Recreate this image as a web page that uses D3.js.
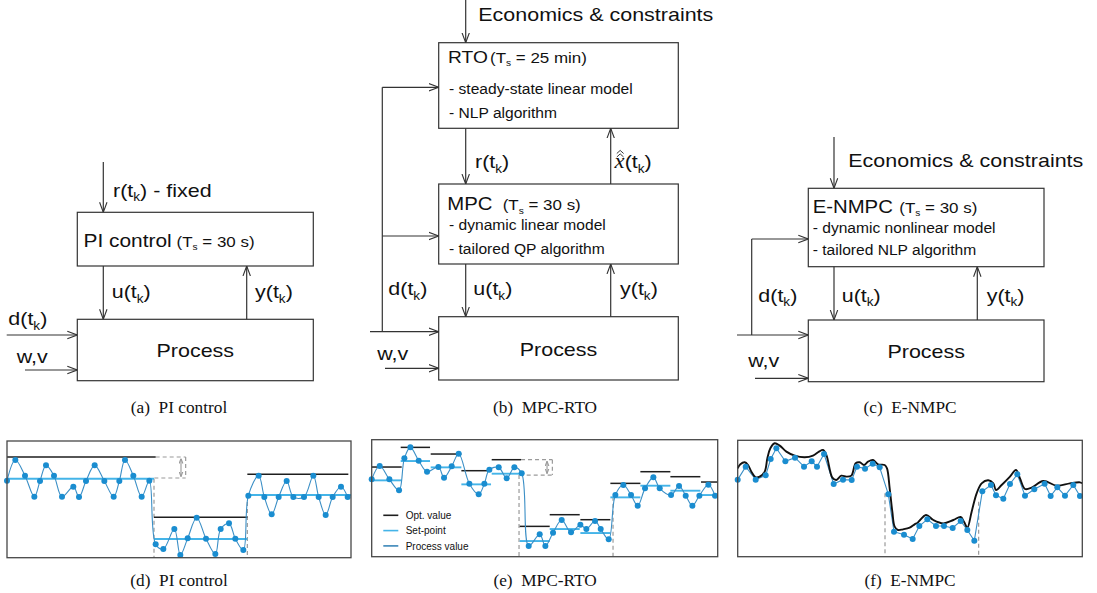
<!DOCTYPE html>
<html><head><meta charset="utf-8">
<script src="https://cdn.jsdelivr.net/npm/d3@7"></script>
<style>body{margin:0;background:#fff}svg{display:block;background:#fff}</style>
</head><body><svg id="c" width="1097" height="593"></svg>
<script>
// ---------------- DATA (arbitrary units) ----------------
// (d) PI control: [time, value]
const piProcess = [[0,231],[25,293],[54,246],[82,183],[99,230],[117,277],[141,246],[165,183],[199,213],[216,182],[237,230],[263,277],[292,230],[320,183],[337,230],[354,293],[379,246],[404,183],[427,231],[446,40],[469,26],[502,86],[520,8],[542,58],[569,120],[597,57],[625,11],[641,86],[666,103],[685,57],[709,23],[724,186],[755,246],[772,182],[794,130],[815,182],[839,230],[859,182],[891,182],[919,246],[935,182],[956,128],[977,182],[1002,213],[1022,182]];
// [start, end, level]
const piSetpoint = [[0,441,237],[441,721,56],[721,1032,188]];
const piOptimum  = [[0,446,302],[441,721,121],[721,1024,250]];
const piSwitch   = [[441,237],[721,188]];
const piGap      = [446,536,302,239,522];
const piDomain   = [1032,350];

// (e) MPC-RTO
const rtoProcess = [[0,232],[24,272],[53,232],[82,199],[98,295],[116,328],[141,288],[166,255],[200,269],[217,237],[240,271],[261,309],[293,219],[321,187],[338,219],[353,261],[381,268],[405,235],[428,268],[450,250],[471,32],[504,67],[521,32],[544,72],[570,110],[598,73],[626,96],[644,83],[670,107],[687,83],[711,52],[731,185],[755,215],[778,185],[798,153],[820,205],[845,238],[864,205],[898,185],[922,212],[942,183],[962,153],[983,183],[1010,216],[1030,183]];
const rtoOptimum  = [[0,90,269],[87,175,328],[177,269,308],[269,358,258],[360,448,291],[444,534,91],[534,624,126],[626,716,111],[716,806,220],[806,896,255],[896,986,240],[988,1038,224]];
const rtoSetpoint = [[0,90,229],[87,175,287],[177,269,268],[269,358,217],[360,448,249],[444,534,47],[534,624,83],[626,716,71],[716,806,178],[806,896,213],[896,986,198],[988,1038,185]];
const rtoSwitch   = [[442,245],[724,180]];
const rtoGap      = [448,542,291,245,526];
const rtoDomain   = [1038,351];
const legendLabels = ["Opt. value","Set-point","Process value"];

// (f) E-NMPC
const nmpcProcess = [[0,231],[24,270],[54,231],[84,244],[99,293],[116,325],[143,286],[172,297],[199,270],[222,286],[238,270],[259,308],[288,218],[316,231],[342,230],[358,270],[382,264],[405,279],[426,268],[452,187],[469,75],[499,66],[525,53],[545,92],[569,112],[595,92],[619,92],[645,86],[669,107],[689,80],[710,48],[734,196],[760,215],[775,184],[797,174],[817,218],[839,247],[862,183],[890,202],[921,219],[939,182],[959,208],[982,183],[1007,215],[1027,182]];
const nmpcOptimum = [[0,265],[8,277],[21,283],[31,275],[41,255],[54,238],[66,240],[81,255],[89,295],[98,325],[111,340],[126,333],[146,315],[171,303],[201,298],[226,303],[244,315],[256,320],[266,305],[284,237],[296,230],[311,243],[326,240],[341,243],[354,280],[366,283],[379,275],[391,285],[406,290],[421,277],[441,275],[448,265],[456,205],[464,135],[471,90],[481,80],[496,82],[516,87],[531,97],[540,102],[565,125],[587,110],[617,100],[647,110],[669,119],[679,105],[689,87],[702,135],[717,190],[732,220],[752,229],[767,220],[775,200],[792,215],[817,240],[835,260],[847,235],[862,203],[882,207],[917,227],[957,213],[997,220],[1027,223],[1034,220]];
const nmpcSwitch  = [[442,190],[723,165]];
const nmpcDomain  = [1034,349];

const captionsTop = [["(a)","PI control"],["(b)","MPC-RTO"],["(c)","E-NMPC"]];
const captionsBottom = [["(d)","PI control"],["(e)","MPC-RTO"],["(f)","E-NMPC"]];

// ---------------- DRAWING ----------------
const svg = d3.select('#c');
const defs = svg.append('defs');
const SANS = "'Liberation Sans', Arial, Helvetica, sans-serif";
const SERIF = "'Liberation Serif', 'Times New Roman', serif";
const INK = '#333';

function marker(id, size, color, sw) {
  defs.append('marker').attr('id', id).attr('viewBox', '0 0 10 10')
    .attr('refX', 10).attr('refY', 5).attr('markerWidth', size).attr('markerHeight', size)
    .attr('markerUnits', 'userSpaceOnUse').attr('orient', 'auto-start-reverse')
    .append('path').attr('d', 'M0,1.3 L10,5 L0,8.7').attr('fill', 'none')
    .attr('stroke', color).attr('stroke-width', sw * 10 / size).attr('stroke-linejoin', 'miter');
}
marker('arr', 10, INK, 1.1);
marker('arrG', 5, '#9a9a9a', 1.1);

const diag = svg.append('g');
function line(x1, y1, x2, y2) {
  return diag.append('line').attr('x1', x1).attr('y1', y1).attr('x2', x2).attr('y2', y2)
    .attr('stroke', INK).attr('stroke-width', 1.2);
}
function arrow(x1, y1, x2, y2) { return line(x1, y1, x2, y2).attr('marker-end', 'url(#arr)'); }
function box(x1, y1, x2, y2) {
  diag.append('rect').attr('x', x1).attr('y', y1).attr('width', x2 - x1).attr('height', y2 - y1)
    .attr('fill', 'none').attr('stroke', INK).attr('stroke-width', 1.2);
}
function txt(x, y, parts, size, o = {}) {
  const t = diag.append('text')
    .attr('transform', `translate(${x},${y}) scale(${o.sx ?? 1.13},1)`)
    .attr('font-family', o.family || SANS).attr('font-size', size)
    .attr('fill', o.fill || '#111').style('white-space', 'pre');
  if (o.anchor) t.attr('text-anchor', o.anchor);
  let cur = 0;
  (Array.isArray(parts) ? parts : [parts]).forEach(p => {
    if (typeof p === 'string') p = { t: p };
    const s = t.append('tspan').text(p.t);
    const want = p.sub ? (p.shift ?? size * 0.27) : 0;
    if (want !== cur) { s.attr('dy', want - cur); cur = want; }
    if (p.size) s.attr('font-size', p.size);
    if (p.italic) s.attr('font-style', 'italic');
    if (p.family) s.attr('font-family', p.family);
  });
  return t;
}
const sub = (t, size, shift) => ({ t, sub: true, size, shift });
const sig = n => [n + '(t', sub('k', 12, 4.5), ')'];
const Ts = v => ['(T', sub('s', 9, 3.5), ' = ' + v + ')'];
const BIG = 19, MID = 18, SMALL = 13.8, TS = 15;

// ---- (a) PI control ----
arrow(103.3, 162, 103.3, 212.3);
txt(113, 196.7, ['r(t', sub('k', 12, 4.5), ') - fixed'], BIG);
box(77.3, 212.3, 313.3, 266);
txt(83.5, 246.7, 'PI control', 18.5);
txt(176.5, 246.7, Ts('30 s'), TS);
arrow(103.3, 266, 103.3, 319.3);
txt(111.7, 298.3, sig('u'), BIG);
arrow(246.7, 319.3, 246.7, 266);
txt(255, 298.3, sig('y'), BIG);
box(77.3, 319.3, 313.3, 380.7);
txt(195.3, 356.7, 'Process', BIG, { anchor: 'middle' });
arrow(6.7, 335, 77.3, 335);
txt(8.3, 325, sig('d'), BIG);
arrow(25, 370, 77.3, 370);
txt(16.7, 363.3, 'w,v', BIG);

// ---- (b) MPC-RTO ----
arrow(465.7, 0, 465.7, 42.7);
txt(478.3, 20.7, 'Economics & constraints', BIG);
box(438.7, 42.7, 678.3, 128.3);
txt(448, 62.7, 'RTO', 17);
txt(490, 62.7, Ts('25 min'), TS);
txt(449, 94.3, '- steady-state linear model', SMALL);
txt(449, 118.3, '- NLP algorithm', SMALL);
line(382.3, 87.3, 382.3, 331.7);
arrow(382.3, 87.3, 438.7, 87.3);
arrow(382.3, 236, 438.7, 236);
arrow(370, 331.7, 438.7, 331.7);
arrow(465.7, 128.3, 465.7, 184);
txt(475, 168.3, sig('r'), BIG);
arrow(610.7, 184, 610.7, 128.3);
txt(614.6, 168.3, [{ t: 'x', italic: true, family: SERIF, size: 20 }, '(t', sub('k', 12, 4.5), ')'], BIG);
diag.append('path').attr('d', 'M616.8,153.5 L620.2,150.4 L623.6,153.5 M616.8,157 L620.2,153.9 L623.6,157')
  .attr('fill', 'none').attr('stroke', '#222').attr('stroke-width', 0.9);
box(438.7, 184, 678.3, 264);
txt(447.3, 210, 'MPC', MID);
txt(502.7, 210, Ts('30 s'), TS);
txt(449, 230, '- dynamic linear model', SMALL);
txt(449, 254, '- tailored QP algorithm', SMALL);
txt(388.3, 295, sig('d'), BIG);
arrow(465.7, 264, 465.7, 316.7);
txt(473.3, 295, sig('u'), BIG);
arrow(610.7, 316.7, 610.7, 264);
txt(620, 295, sig('y'), BIG);
box(438.7, 316.7, 678.3, 380);
txt(558.5, 356, 'Process', BIG, { anchor: 'middle' });
txt(377.3, 360, 'w,v', BIG);
arrow(385, 368.3, 438.7, 368.3);

// ---- (c) E-NMPC ----
arrow(834, 137, 834, 188.3);
txt(848.3, 166.7, 'Economics & constraints', BIG);
box(808.3, 188.3, 1044, 266.7);
txt(812.7, 212.7, 'E-NMPC', MID);
txt(899.3, 212.7, Ts('30 s'), TS);
txt(812.7, 233.3, '- dynamic nonlinear model', SMALL);
txt(812.7, 255, '- tailored NLP algorithm', SMALL);
line(751.7, 239, 751.7, 335);
arrow(751.7, 239, 808.3, 239);
arrow(737, 335, 808.3, 335);
txt(758.3, 301.7, sig('d'), BIG);
arrow(834, 266.7, 834, 320);
txt(841.7, 301.7, sig('u'), BIG);
arrow(977.3, 320, 977.3, 266.7);
txt(986.7, 301.7, sig('y'), BIG);
box(808.3, 320, 1044, 381.7);
txt(926.2, 358.3, 'Process', BIG, { anchor: 'middle' });
txt(748.3, 366.7, 'w,v', BIG);
arrow(755, 378.3, 808.3, 378.3);

// ---- captions ----
const capX = [179, 545, 910];
captionsTop.forEach((c, i) => txt(capX[i], 413, c[0] + '  ' + c[1], 16, { family: SERIF, anchor: 'middle', sx: 1.08 }));
captionsBottom.forEach((c, i) => txt(capX[i], 585.5, c[0] + '  ' + c[1], 16, { family: SERIF, anchor: 'middle', sx: 1.08 }));

// ---------------- TIME-SERIES PANELS ----------------
const C_PT = '#1a8dd0', C_PV = '#3b8fc6', C_SP = '#44b4e8', C_OPT = '#1e1e1e', C_DASH = '#9a9a9a';

function panel(cfg) {
  const g = svg.append('g');
  const x = d3.scaleLinear().domain([0, cfg.domain[0]]).range([cfg.box[0], cfg.box[2]]);
  const y = d3.scaleLinear().domain([0, cfg.domain[1]]).range([cfg.box[3], cfg.box[1]]);
  const dash = (x1, y1, x2, y2) => g.append('line').attr('x1', x(x1)).attr('y1', y(y1)).attr('x2', x(x2)).attr('y2', y(y2))
    .attr('stroke', C_DASH).attr('stroke-width', 1.2).attr('stroke-dasharray', '4,3');
  (cfg.switches || []).forEach(s => dash(s[0], s[1], s[0], 0));
  if (cfg.gap) {
    const [t0, t1, hi, lo, ta] = cfg.gap;
    dash(t0, hi, t1, hi); dash(t1, hi, t1, lo); dash(t0 - 4, lo, t1, lo);
    g.append('line').attr('x1', x(ta)).attr('y1', y(hi) + 1.5).attr('x2', x(ta)).attr('y2', y(lo) - 1.5)
      .attr('stroke', C_DASH).attr('stroke-width', 1.1)
      .attr('marker-start', 'url(#arrG)').attr('marker-end', 'url(#arrG)');
  }
  const seg = (arr, color, w) => g.selectAll(null).data(arr).join('line')
    .attr('x1', d => x(d[0])).attr('x2', d => x(d[1])).attr('y1', d => y(d[2])).attr('y2', d => y(d[2]))
    .attr('stroke', color).attr('stroke-width', w);
  if (cfg.setpoint) seg(cfg.setpoint, C_SP, 1.9);
  if (cfg.optimum) seg(cfg.optimum, C_OPT, 1.5);
  const lg = d3.line().x(d => x(d[0])).y(d => y(d[1]));
  g.append('path').datum(cfg.process).attr('fill', 'none').attr('stroke', C_PV).attr('stroke-width', 1.1)
    .attr('d', lg.curve(cfg.smooth ? d3.curveCatmullRom.alpha(0.5) : d3.curveLinear)(cfg.process));
  if (cfg.curve) {
    g.append('path').datum(cfg.curve).attr('fill', 'none').attr('stroke', '#111').attr('stroke-width', 1.9)
      .attr('d', d3.line().x(d => x(d[0])).y(d => y(d[1])).curve(d3.curveCatmullRom.alpha(0.5)));
  }
  g.selectAll(null).data(cfg.process).join('circle')
    .attr('cx', d => x(d[0])).attr('cy', d => y(d[1])).attr('r', 3).attr('fill', C_PT);
  g.append('rect').attr('x', cfg.box[0]).attr('y', cfg.box[1])
    .attr('width', cfg.box[2] - cfg.box[0]).attr('height', cfg.box[3] - cfg.box[1])
    .attr('fill', 'none').attr('stroke', '#474747').attr('stroke-width', 1.3);
  return g;
}

panel({ box: [7, 441, 351, 557.7], domain: piDomain, process: piProcess, setpoint: piSetpoint,
  optimum: piOptimum, switches: piSwitch, gap: piGap, smooth: true });
const ge = panel({ box: [371.7, 439.7, 717.7, 556.7], domain: rtoDomain, process: rtoProcess, setpoint: rtoSetpoint,
  optimum: rtoOptimum, switches: rtoSwitch, gap: rtoGap, smooth: true });
panel({ box: [737.7, 440.3, 1082.3, 556.7], domain: nmpcDomain, process: nmpcProcess,
  curve: nmpcOptimum, switches: nmpcSwitch, smooth: false });

// legend for (e)
const legColors = [C_OPT, C_SP, '#3a86b8'];
const leg = ge.append('g');
legendLabels.forEach((lab, i) => {
  const yy = 515.3 + i * 15.3;
  leg.append('line').attr('x1', 383.3).attr('x2', 398.3).attr('y1', yy).attr('y2', yy)
    .attr('stroke', legColors[i]).attr('stroke-width', 1.6);
  leg.append('text').attr('x', 405.7).attr('y', yy + 3.6).attr('font-family', SANS)
    .attr('font-size', 10).attr('fill', '#111').text(lab);
});
</script></body></html>
